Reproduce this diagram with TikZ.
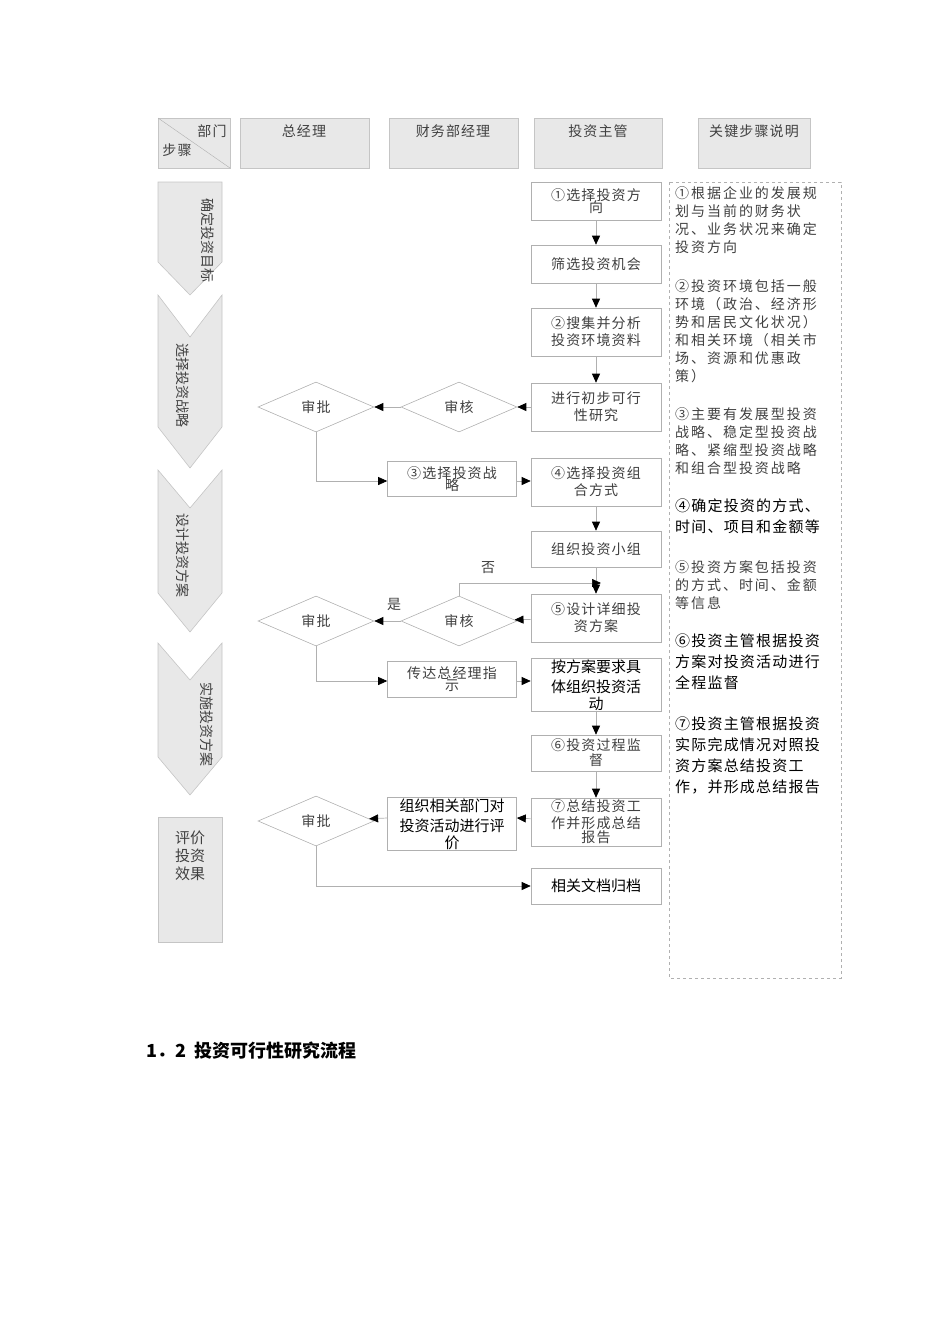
\documentclass[tikz,border=0pt]{standalone}
\usepackage{fontspec}
\setmainfont{Noto Sans CJK SC}
\newfontfamily\spc{Noto Sans CJK SC}[LetterSpace=8]
\newfontfamily\spcw{Noto Sans CJK SC}[LetterSpace=14]
\usetikzlibrary{shapes.geometric,arrows.meta}
\definecolor{hdr}{HTML}{E8E8E8}
\definecolor{ln}{HTML}{B0B0B0}
\definecolor{tx}{HTML}{404040}
\tikzset{
 hbox/.style={fill=hdr,draw=hdr!85!black,line width=0.6pt},
 pbox/.style={draw=ln,line width=0.6pt,fill=white,minimum width=130pt,align=center,font=\spc\fontsize{14}{17}\selectfont,text=tx,inner sep=1pt},
 fbox/.style={pbox,minimum width=129pt},
 dia/.style={draw=ln,line width=0.6pt,diamond,aspect=2.3,minimum width=116pt,minimum height=50pt,inner sep=0pt,font=\spc\fontsize{14}{16}\selectfont,text=tx},
 bk/.style={text=black},
 conn/.style={draw=ln,line width=0.7pt,-{Triangle[length=9pt,width=8pt,fill=black,color=black]}},
 note/.style={anchor=north west,align=left,font=\spcw\fontsize{14}{18}\selectfont,text=tx,inner sep=0pt},
 noteb/.style={anchor=north west,align=left,font=\spc\fontsize{15}{21}\selectfont,text=black,inner sep=0pt},
 vt/.style={rotate=-90,font=\fontsize{14}{16}\selectfont,text=tx},
 ht/.style={font=\spc\fontsize{14}{16}\selectfont,text=tx}
}
\begin{document}
\begin{tikzpicture}[x=1pt,y=-1pt]
\useasboundingbox (0,0) rectangle (950,1344);
% header
\draw[hbox] (158,118) rectangle (230,168);
\draw[ln] (158,118) -- (230,168);
\node[ht] (hb1) at (212,131) {部门};
\node[ht] (hb2) at (177,150) {步骤};
\draw[hbox] (240,118) rectangle (369,168);
\node[ht] (h1) at (304,131) {总经理};
\draw[hbox] (389,118) rectangle (518,168);
\node[ht] (h2) at (453,131) {财务部经理};
\draw[hbox] (534,118) rectangle (662,168);
\node[ht] (h3) at (598,131) {投资主管};
\draw[hbox] (698,118) rectangle (810,168);
\node[ht] (h4) at (754,131) {关键步骤说明};
% stage chevrons
\draw[hbox] (158,182) -- (222,182) -- (222,262) -- (190,295) -- (158,262) -- cycle;
\node[vt] (s1) at (208,240) {确定投资目标};
\draw[hbox] (158,295) -- (190,337) -- (222,295) -- (222,427) -- (190,468) -- (158,427) -- cycle;
\node[vt] (s2) at (183,385) {选择投资战略};
\draw[hbox] (158,470) -- (190,508) -- (222,470) -- (222,593) -- (190,632) -- (158,593) -- cycle;
\node[vt] (s3) at (183,555) {设计投资方案};
\draw[hbox] (158,643) -- (190,680) -- (222,643) -- (222,757) -- (190,795) -- (158,757) -- cycle;
\node[vt] (s4) at (207,724) {实施投资方案};
\draw[hbox] (158,817) rectangle (222,942);
\node[align=center,font=\fontsize{15}{18}\selectfont,text=tx] (s5) at (190,856) {评价\\投资\\效果};
% main column
\node[pbox,minimum height=38pt] (a1) at (596,201) {①选择投资方\\[-5pt]向};
\node[pbox,minimum height=38pt] (a2) at (596,264) {筛选投资机会};
\node[pbox,minimum height=48pt] (a3) at (596,332) {②搜集并分析\\投资环境资料};
\node[pbox,minimum height=48pt] (a4) at (596,407) {进行初步可行\\性研究};
\node[pbox,minimum height=48pt] (a5) at (596,482) {④选择投资组\\合方式};
\node[pbox,minimum height=36pt] (a6) at (596,549) {组织投资小组};
\node[pbox,minimum height=48pt] (a7) at (596,618) {⑤设计详细投\\资方案};
\node[pbox,bk,minimum height=48pt,font=\fontsize{15}{20}\selectfont] (a8) at (596,685) {按方案要求具\\体组织投资活\\[-3pt]动};
\node[pbox,minimum height=36pt] (a9) at (596,753) {⑥投资过程监\\[-2pt]督};
\node[pbox,minimum height=48pt] (a10) at (596,822) {⑦总结投资工\\作并形成总结\\[-3pt]报告};
\node[pbox,bk,minimum height=36pt,font=\fontsize{15}{18}\selectfont] (a11) at (596,886) {相关文档归档};
% diamonds
\node[dia] (p1) at (316,407) {审批};
\node[dia] (r1) at (459,407) {审核};
\node[dia] (p2) at (316,621) {审批};
\node[dia] (r2) at (459,621) {审核};
\node[dia] (p3) at (316,821) {审批};
% finance boxes
\node[fbox,minimum height=35pt] (b1) at (452,479) {③选择投资战\\[-5pt]略};
\node[fbox,minimum height=36pt] (b2) at (452,679) {传达总经理指\\[-5pt]示};
\node[fbox,bk,minimum height=49pt,font=\fontsize{15}{20}\selectfont] (b3) at (452,824) {组织相关部门对\\投资活动进行评\\[-3pt]价};
% connectors
\draw[conn] (a1) -- (a2);
\draw[conn] (a2) -- (a3);
\draw[conn] (a3) -- (a4);
\draw[conn] (a4) -- (r1);
\draw[conn] (r1) -- (p1);
\draw[conn] (p1.south) |- (b1.west |- 0,481);
\draw[conn] (b1.east |- 0,481) -- (a5.west |- 0,481);
\draw[conn] (a5) -- (a6);
\draw[conn] (a6) -- (a7);
\coordinate (j) at (601,583);
\draw[conn] (r2.north) |- (j);
\node[ht] (no) at (488,568) {否};
\draw[conn] (a7) -- (r2);
\draw[conn] (r2) -- (p2);
\node[ht] (yes) at (394,604) {是};
\draw[conn] (p2.south) |- (b2.west |- 0,681);
\draw[conn] (b2.east |- 0,681) -- (a8.west |- 0,681);
\draw[conn] (a8) -- (a9);
\draw[conn] (a9) -- (a10);
\draw[conn] (a10) -- (b3.east |- 0,818);
\draw[conn] (b3.west |- 0,818) -- (p3);
\draw[conn] (p3.south) |- (a11);
% notes
\draw[ln,dashed,line width=0.6pt] (669,182) rectangle (841,978);
\node[note] (n1) at (675,186) {①根据企业的发展规\\划与当前的财务状\\况、业务状况来确定\\投资方向};
\node[note] (n2) at (675,279) {②投资环境包括一般\\环境（政治、经济形\\势和居民文化状况）\\和相关环境（相关市\\场、资源和优惠政\\策）};
\node[note] (n3) at (675,407) {③主要有发展型投资\\战略、稳定型投资战\\略、紧缩型投资战略\\和组合型投资战略};
\node[noteb] (n4) at (675,499) {④确定投资的方式、\\时间、项目和金额等};
\node[note] (n5) at (675,560) {⑤投资方案包括投资\\的方式、时间、金额\\等信息};
\node[noteb] (n6) at (675,634) {⑥投资主管根据投资\\方案对投资活动进行\\全程监督};
\node[noteb] (n7) at (675,717) {⑦投资主管根据投资\\实际完成情况对照投\\资方案总结投资工\\作，并形成总结报告};
% heading
\node[anchor=west,font=\bfseries\fontsize{18}{20}\selectfont] (title) at (143,1051) {1．2\ \ 投资可行性研究流程};
\end{tikzpicture}
\end{document}
